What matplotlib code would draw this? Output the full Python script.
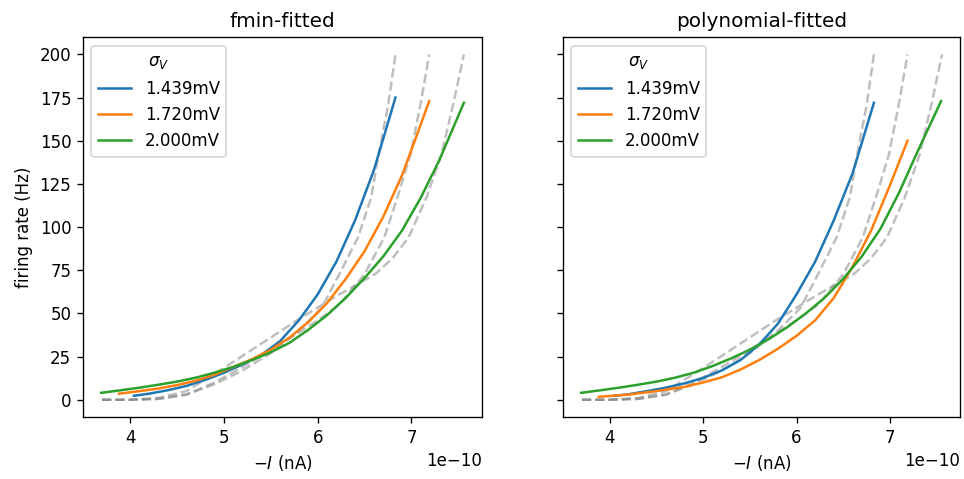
import numpy as np
import matplotlib
matplotlib.use('Agg')
import matplotlib.pyplot as plt

# sigma_V values for the legend
sigmas = ['1.439mV', '1.720mV', '2.000mV']

# reference (simulated) f-I curves, x in units of 1e-10
ref_x = [
    [3.7, 4.0, 4.3, 4.6, 4.9, 5.2, 5.5, 5.8, 6.04, 6.23, 6.43, 6.57, 6.66, 6.75, 6.83],
    [3.7, 4.0, 4.3, 4.6, 4.9, 5.2, 5.5, 5.8, 6.0, 6.23, 6.5, 6.71, 6.85, 6.99, 7.1, 7.19],
    [3.7, 4.0, 4.3, 4.6, 4.96, 5.3, 5.78, 6.2, 6.62, 6.8, 6.97, 7.16, 7.32, 7.45, 7.56],
]
ref_y = [
    [0, 0, 0.5, 3, 9, 17, 27, 40, 53, 72.6, 94, 117, 145, 170, 200],
    [0, 0, 0.5, 3, 10, 19, 29, 39, 46, 55, 72.6, 94, 117, 142, 172, 200],
    [0, 0, 1, 5, 17, 29, 46, 60, 73, 82, 94, 117, 142, 172, 200],
]

# fmin fitted curves
fmin_x = [
    [4.04, 4.2, 4.4, 4.6, 4.8, 5.0, 5.2, 5.4, 5.6, 5.8, 6.0, 6.2, 6.4, 6.6, 6.83],
    [3.88, 4.1, 4.3, 4.5, 4.7, 4.9, 5.1, 5.3, 5.5, 5.7, 5.9, 6.1, 6.3, 6.5, 6.7, 6.9, 7.05, 7.19],
    [3.69, 3.9, 4.1, 4.3, 4.5, 4.7, 4.9, 5.1, 5.3, 5.5, 5.7, 5.9, 6.1, 6.3, 6.5, 6.7, 6.9, 7.1, 7.3, 7.56],
]
fmin_y = [
    [2.3, 3.5, 5.5, 8, 11.5, 15.6, 20.5, 26, 34, 46, 61, 80, 104, 133, 175],
    [3.5, 5, 6.5, 8.5, 11, 14.5, 19, 23.5, 29, 36, 45, 56, 70, 86, 106, 130, 152, 173],
    [4, 5.5, 7, 8.7, 10.5, 12.8, 15.7, 19, 23, 27.5, 33, 40.5, 49, 59, 70.5, 83, 98, 117, 139, 172],
]

# polynomial fitted curves
poly_x = [
    [4.04, 4.2, 4.4, 4.6, 4.8, 5.0, 5.2, 5.4, 5.6, 5.8, 6.0, 6.2, 6.4, 6.6, 6.83],
    [3.88, 4.2, 4.5, 4.8, 5.0, 5.2, 5.4, 5.6, 5.8, 6.0, 6.2, 6.4, 6.6, 6.8, 7.0, 7.19],
    [3.69, 3.9, 4.1, 4.3, 4.5, 4.7, 4.9, 5.1, 5.3, 5.5, 5.7, 5.9, 6.1, 6.3, 6.5, 6.7, 6.9, 7.1, 7.3, 7.55],
]
poly_y = [
    [2.3, 3.2, 5, 7, 9.5, 12.7, 17, 23, 32, 44, 61, 80, 104, 131, 172],
    [1.7, 3, 5, 7.5, 10, 13, 17.5, 23, 29.5, 37, 46, 59, 77, 98, 124, 150],
    [4, 5.5, 7, 8.7, 10.5, 12.8, 15.7, 19.5, 24, 29, 35, 42, 50, 59, 70, 83, 99, 120, 144, 173],
]

colors = ['tab:blue', 'tab:orange', 'tab:green']

fig = plt.figure(figsize=(965 / 120, 479 / 120), dpi=120)
ax1 = fig.add_axes([0.086, 0.1294, 0.4135, 0.793])
ax2 = fig.add_axes([0.5834, 0.1294, 0.4115, 0.793], sharey=ax1)

for ax, fx, fy, title in [(ax1, fmin_x, fmin_y, 'fmin-fitted'),
                          (ax2, poly_x, poly_y, 'polynomial-fitted')]:
    for i in range(3):
        ax.plot(np.array(ref_x[i]) * 1e-10, ref_y[i], '--', color='grey', alpha=0.5)
    for i in range(3):
        ax.plot(np.array(fx[i]) * 1e-10, fy[i], color=colors[i], label=sigmas[i])
    ax.legend(title=r'$\sigma_V$', loc='upper left')
    ax.set_title(title)
    ax.set_xlabel(r'$-I$ (nA)')
    ax.set_xticks(np.array([4, 5, 6, 7]) * 1e-10)

ax1.set_ylabel('firing rate (Hz)')
ax1.set_yticks([0, 25, 50, 75, 100, 125, 150, 175, 200])
plt.setp(ax2.get_yticklabels(), visible=False)

fig.savefig('out.png', dpi=120)
